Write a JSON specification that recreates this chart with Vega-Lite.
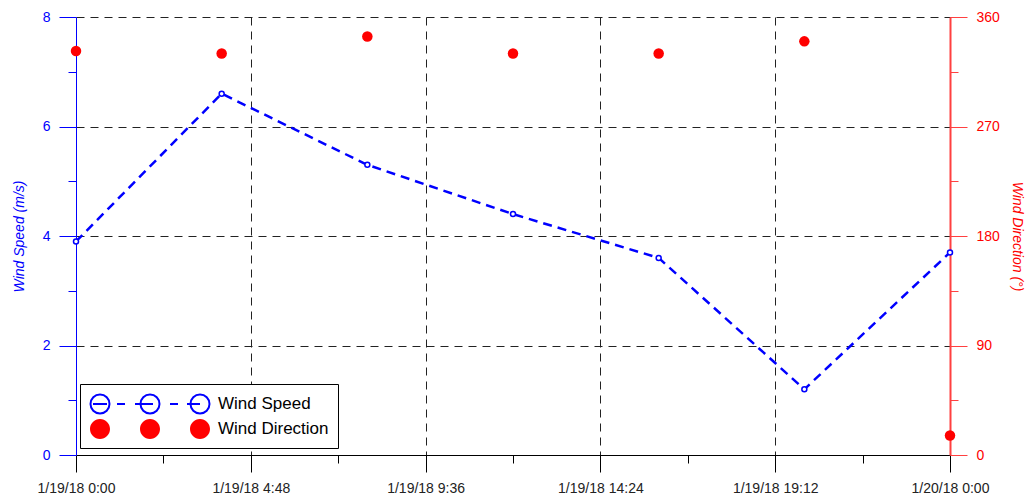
{
  "$schema": "https://vega.github.io/schema/vega-lite/v6.json",
  "width": 874,
  "height": 438,
  "autosize": {"type": "none"},
  "padding": {"left": 76, "top": 17, "right": 76, "bottom": 49},
  "background": "white",
  "config": {
    "view": {"stroke": null},
    "font": "Liberation Sans"
  },
  "data": {
    "values": [
      {"time": "2018-01-19 00:00", "speed": 3.9, "direction": 332},
      {"time": "2018-01-19 04:00", "speed": 6.6, "direction": 330},
      {"time": "2018-01-19 08:00", "speed": 5.3, "direction": 344},
      {"time": "2018-01-19 12:00", "speed": 4.4, "direction": 330},
      {"time": "2018-01-19 16:00", "speed": 3.6, "direction": 330},
      {"time": "2018-01-19 20:00", "speed": 1.2, "direction": 340},
      {"time": "2018-01-20 00:00", "speed": 3.7, "direction": 16}
    ]
  },
  "encoding": {
    "x": {
      "field": "time",
      "type": "temporal",
      "scale": {
        "domain": [
          {"year": 2018, "month": 1, "date": 19, "hours": 0},
          {"year": 2018, "month": 1, "date": 20, "hours": 0}
        ],
        "nice": false
      },
      "axis": {
        "title": null,
        "values": [
          {"year": 2018, "month": 1, "date": 19, "hours": 0, "minutes": 0},
          {"year": 2018, "month": 1, "date": 19, "hours": 2, "minutes": 24},
          {"year": 2018, "month": 1, "date": 19, "hours": 4, "minutes": 48},
          {"year": 2018, "month": 1, "date": 19, "hours": 7, "minutes": 12},
          {"year": 2018, "month": 1, "date": 19, "hours": 9, "minutes": 36},
          {"year": 2018, "month": 1, "date": 19, "hours": 12, "minutes": 0},
          {"year": 2018, "month": 1, "date": 19, "hours": 14, "minutes": 24},
          {"year": 2018, "month": 1, "date": 19, "hours": 16, "minutes": 48},
          {"year": 2018, "month": 1, "date": 19, "hours": 19, "minutes": 12},
          {"year": 2018, "month": 1, "date": 19, "hours": 21, "minutes": 36},
          {"year": 2018, "month": 1, "date": 20, "hours": 0, "minutes": 0}
        ],
        "format": "%-m/%-d/%y %-H:%M",
        "labelExpr": "(datum.value - datetime(2018,0,19)) % 17280000 === 0 ? datum.label : ''",
        "labelFlush": false,
        "labelOverlap": false,
        "labelFontSize": 14,
        "labelColor": "#222222",
        "labelPadding": 9,
        "domainColor": "black",
        "domainWidth": 1,
        "tickColor": "black",
        "tickWidth": 1,
        "tickSize": {"condition": {"test": "(datum.value - datetime(2018,0,19)) % 17280000 === 0", "value": 17}, "value": 8},
        "grid": true,
        "gridDash": [8, 6],
        "gridColor": "#222222",
        "gridWidth": 1,
        "gridOpacity": {"condition": {"test": "(datum.value - datetime(2018,0,19)) % 17280000 === 0 && datum.value > datetime(2018,0,19)", "value": 1}, "value": 0}
      }
    }
  },
  "layer": [
    {
      "encoding": {
        "y": {
          "field": "speed",
          "type": "quantitative",
          "scale": {"domain": [0, 8], "nice": false},
          "axis": {
            "orient": "left",
            "title": "Wind Speed (m/s)",
            "values": [0, 1, 2, 3, 4, 5, 6, 7, 8],
            "labelExpr": "datum.value % 2 === 0 ? datum.label : ''",
            "tickSize": {"condition": {"test": "datum.value % 2 === 0", "value": 17}, "value": 8},
            "domainColor": "blue",
            "tickColor": "blue",
            "labelColor": "blue",
            "labelFontSize": 14,
            "labelPadding": 9,
            "titleColor": "blue",
            "titleFontStyle": "italic",
            "titleFontWeight": "normal",
            "titleFontSize": 14,
            "titlePadding": 16,
            "grid": true,
            "gridDash": [8, 6],
            "gridColor": "#222222",
            "gridWidth": 1,
            "gridOpacity": {"condition": {"test": "datum.value % 2 === 0 && datum.value > 0", "value": 1}, "value": 0}
          }
        }
      },
      "layer": [
        {
          "mark": {"type": "line", "strokeDash": [9, 6], "strokeWidth": 2.5},
          "encoding": {
            "color": {
              "datum": "Wind Speed",
              "scale": {"domain": ["Wind Speed", "Wind Direction"], "range": ["blue", "red"]},
              "legend": {
                "orient": "none",
                "legendX": 4,
                "legendY": 367,
                "title": null,
                "fillColor": "white",
                "strokeColor": "black",
                "padding": 9,
                "labelFontSize": 17,
                "labelColor": "black",
                "labelOffset": 107,
                "rowPadding": -2,
                "symbolSize": 400,
                "encode": {
                  "symbols": {
                    "update": {
                      "shape": {"signal": "datum.value === 'Wind Speed' ? 'M-0.95,0A0.95,0.95 0 1,0 0.95,0A0.95,0.95 0 1,0 -0.95,0Z M4.05,0A0.95,0.95 0 1,0 5.95,0A0.95,0.95 0 1,0 4.05,0Z M9.05,0A0.95,0.95 0 1,0 10.95,0A0.95,0.95 0 1,0 9.05,0Z M-0.7,0L0.7,0M1.7,0L2.5,0M3.5,0L5.3,0M7,0L7.8,0M8.7,0L10,0' : 'M-1,0A1,1 0 1,0 1,0A1,1 0 1,0 -1,0Z M4,0A1,1 0 1,0 6,0A1,1 0 1,0 4,0Z M9,0A1,1 0 1,0 11,0A1,1 0 1,0 9,0Z'"},
                      "fill": {"signal": "datum.value === 'Wind Speed' ? 'white' : 'red'"},
                      "fillOpacity": {"signal": "datum.value === 'Wind Speed' ? 0 : 1"},
                      "stroke": {"signal": "datum.value === 'Wind Speed' ? 'blue' : 'red'"},
                      "strokeOpacity": {"signal": "datum.value === 'Wind Speed' ? 1 : 0"},
                      "strokeWidth": {"value": 2},
                      "strokeDash": {"value": []},
                      "size": {"value": 400},
                      "opacity": {"value": 1}
                    }
                  }
                }
              }
            }
          }
        },
        {
          "mark": {"type": "point", "shape": "circle", "filled": false, "fill": "white", "stroke": "blue", "strokeWidth": 1.5, "size": 25, "opacity": 1}
        }
      ]
    },
    {
      "mark": {"type": "point", "shape": "circle", "filled": true, "size": 110, "opacity": 1},
      "encoding": {
        "color": {"datum": "Wind Direction"},
        "y": {
          "field": "direction",
          "type": "quantitative",
          "scale": {"domain": [0, 360], "nice": false},
          "axis": {
            "orient": "right",
            "title": "Wind Direction (°)",
            "values": [0, 45, 90, 135, 180, 225, 270, 315, 360],
            "labelExpr": "datum.value % 90 === 0 ? datum.label : ''",
            "tickSize": {"condition": {"test": "datum.value % 90 === 0", "value": 17}, "value": 8},
            "domainColor": "#ff4040",
            "domainWidth": 2,
            "tickColor": "#ff4040",
            "labelColor": "red",
            "labelFontSize": 14,
            "labelPadding": 9,
            "titleColor": "red",
            "titleFontStyle": "italic",
            "titleFontWeight": "normal",
            "titleFontSize": 14,
            "titlePadding": 10,
            "grid": false
          }
        }
      }
    }
  ],
  "resolve": {"scale": {"y": "independent"}}
}
